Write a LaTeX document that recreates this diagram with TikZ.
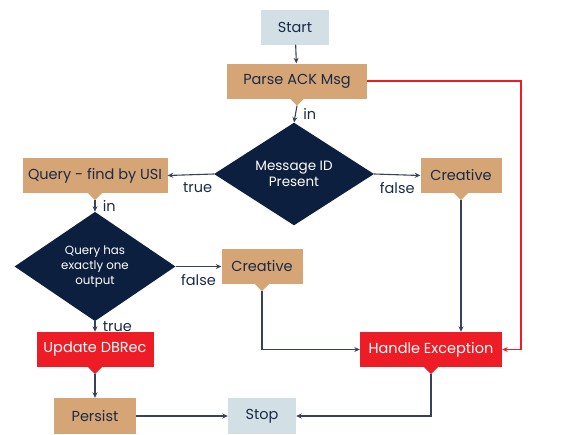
\documentclass[tikz,border=0pt]{standalone}
\usepackage{fontspec}
\setmainfont{Poppins}
\usepackage{tikz}
\usetikzlibrary{shapes.geometric,arrows.meta,positioning,calc}
\definecolor{sand}{HTML}{D5A575}
\definecolor{navy}{HTML}{0C1F3F}
\definecolor{alarm}{HTML}{EE1C25}
\definecolor{pale}{HTML}{D2E0E6}
\definecolor{ink}{HTML}{1B2A47}
\definecolor{wire}{HTML}{34425E}
% little pointer under a box
\newcommand{\addtip}[2]{\fill[#2] ([xshift=-7pt]#1.south) -- ([xshift=7pt]#1.south) -- ([yshift=-7pt]#1.south) coordinate (#1-tip) -- cycle;}

\begin{document}
\begin{tikzpicture}[x=1pt, y=-1pt,
    box/.style={rectangle, fill=sand, text=ink, minimum height=35pt, inner sep=0pt, font=\fontsize{14.5}{17}\selectfont},
    endbox/.style={box, fill=pale},
    errbox/.style={box, fill=alarm, text=white},
    test/.style={diamond, fill=navy, text=white, inner sep=0pt, align=center},
    arr/.style={line width=1.1pt, -{Stealth[length=5.5pt,width=5pt]}},
    lbl/.style={text=ink, font=\fontsize{14.5}{17}\selectfont}]
    \useasboundingbox (0,0) rectangle (580,434);

    % Boxes
    \node[endbox, minimum width=68pt] (start) at (295,27) {Start};
    \node[box, minimum width=140pt] (parse) at (297,81) {Parse ACK Msg};
    \node[box, minimum width=145pt] (query) at (95,175.5) {Query - find by USI};
    \node[box, minimum width=81pt] (create) at (461,175.5) {Creative};
    \node[box, minimum width=81pt] (recreate) at (262,266.5) {Creative};
    \node[errbox, minimum width=142pt] (handle) at (431,349.5) {Handle Exception};
    \node[errbox, minimum width=117pt] (update) at (95,349.5) {Update DBRec};
    \node[box, minimum width=82pt, minimum height=36pt] (persist) at (95,416) {Persist};
    \node[endbox, minimum width=68pt, minimum height=36pt] (stop) at (262,416) {Stop};

    % Decisions
    \node[test, minimum width=160pt, minimum height=82pt, font=\fontsize{13.5}{16}\selectfont] (msgid) at (294,174) {Message ID\\Present};
    \node[test, minimum width=161pt, minimum height=83pt, font=\fontsize{11.8}{15}\selectfont] (single) at (95,266.5) {Query has\\exactly one\\output};

    % Pointers
    \addtip{parse}{sand}
    \addtip{query}{sand}
    \addtip{create}{sand}
    \addtip{recreate}{sand}
    \addtip{handle}{alarm}
    \addtip{update}{alarm}

    % Flow
    \begin{scope}[wire]
    \draw[arr] (start) -- (parse);
    \draw[arr] (parse-tip) -- (msgid.north) node[lbl, midway, right=4pt] {in};
    \draw[arr] (msgid.west) -- (query.east) node[lbl, pos=0.35, below=4pt] {true};
    \draw[arr] (msgid.east) -- (create.west) node[lbl, midway, below=4pt] {false};
    \draw[arr] (query-tip) -- (single.north) node[lbl, midway, right=4pt] {in};
    \draw[arr] (single.east) -- (recreate.west) node[lbl, midway, below=4pt] {false};
    \draw[arr] (single.south) -- (update.north) node[lbl, midway, right=4pt] {true};
    \draw[arr] (update-tip) -- (persist.north);
    \draw[arr] (create-tip) -- (create-tip |- handle.north);
    \draw[arr] (recreate-tip) |- (handle.west);
    \draw[arr] (persist.east) -- (stop.west);
    \draw[arr] (handle-tip) |- (stop.east);
    \end{scope}

    % Error path
    \draw[arr, alarm, line width=1.3pt] (parse.east) -| (521,349.5) -- (handle.east);
\end{tikzpicture}
\end{document}
